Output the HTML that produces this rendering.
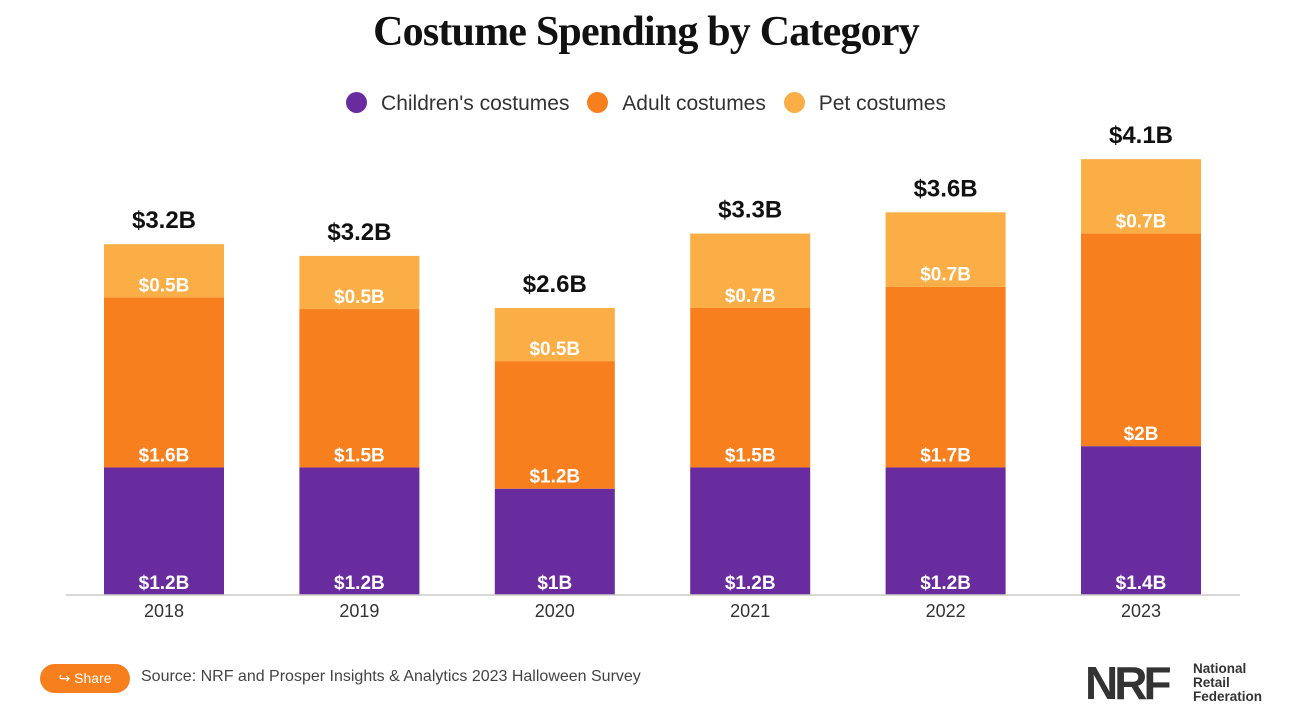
<!DOCTYPE html>
<html><head><meta charset="utf-8">
<style>
body{margin:0;width:1292px;height:710px;background:#fff;font-family:"Liberation Sans",sans-serif;overflow:hidden;position:relative}
#title{position:absolute;top:8px;left:0;width:1292px;text-align:center;font-family:"Liberation Serif",serif;font-weight:bold;font-size:42px;color:#111;letter-spacing:-0.8px}
#legend{position:absolute;top:92px;left:0;width:1292px;text-align:center;font-size:21px;color:#333}
.li{display:inline-block;margin:0 6px}
.dot{display:inline-block;width:21px;height:21px;border-radius:50%;vertical-align:-3px;margin-right:14px}
#share{position:absolute;left:40px;top:664px;width:90px;height:29px;border-radius:15px;background:#f77f1d;color:#fff;font-size:14px;line-height:29px;text-align:center}
#source{position:absolute;left:141px;top:668px;font-size:16px;color:#444}
#logo{position:absolute;left:1085px;top:656px;display:flex;align-items:center}
</style></head><body>
<div id="title">Costume Spending by Category</div>
<div id="legend">
<span class="li"><span class="dot" style="background:#692c9f"></span>Children's costumes</span>
<span class="li"><span class="dot" style="background:#f77f1d"></span>Adult costumes</span>
<span class="li"><span class="dot" style="background:#fbae45"></span>Pet costumes</span>
</div>
<svg id="chart" width="1292" height="710" style="position:absolute;left:0;top:0"></svg>
<div id="share">&#x21AA; Share</div>
<div id="source">Source: NRF and Prosper Insights &amp; Analytics 2023 Halloween Survey</div>
<div id="logo">
<span style="font-weight:900;font-size:46px;color:#333;letter-spacing:-4px;display:inline-block;width:108px">NRF</span>
<span style="font-weight:bold;font-size:13.5px;line-height:14px;color:#333">National<br>Retail<br>Federation</span>
</div>
<script>
const years=["2018","2019","2020","2021","2022","2023"];
const children=[1.2,1.2,1.0,1.2,1.2,1.4];
const adult=[1.6,1.49,1.2,1.5,1.7,2.0];
const pet=[0.5,0.5,0.5,0.7,0.7,0.7];
const childLabels=["$1.2B","$1.2B","$1B","$1.2B","$1.2B","$1.4B"];
const adultLabels=["$1.6B","$1.5B","$1.2B","$1.5B","$1.7B","$2B"];
const petLabels=["$0.5B","$0.5B","$0.5B","$0.7B","$0.7B","$0.7B"];
const totalLabels=["$3.2B","$3.2B","$2.6B","$3.3B","$3.6B","$4.1B"];

const svg=document.getElementById('chart');
const NS="http://www.w3.org/2000/svg";
const base=595, pxPerB=106.3, x0=164, step=195.4, bw=120;
const y=v=>base-v*pxPerB;
const xc=i=>x0+i*step;
function mk(tag,attrs){const e=document.createElementNS(NS,tag);for(const k in attrs)e.setAttribute(k,attrs[k]);svg.appendChild(e);return e;}
const colors=["#692c9f","#f77f1d","#fbae45"];
years.forEach((yr,i)=>{
  const segs=[children[i],adult[i],pet[i]];
  let cum=0;
  segs.forEach((v,s)=>{
    const r=mk('rect',{x:xc(i)-bw/2,y:y(cum+v),width:bw,height:v*pxPerB,fill:colors[s]});
    
    
    cum+=v;
  });
  const c1=children[i], c2=c1+adult[i], c3=c2+pet[i];
  const lab=(txt,ty,name,size,fill)=>{const t=mk('text',{x:xc(i),y:ty,'text-anchor':'middle','font-size':size,'font-weight':'bold',fill:fill,'font-family':'Liberation Sans, sans-serif'});t.textContent=txt;
    
    };
  lab(childLabels[i],base-6,'label-children-'+yr,19,'#fff');
  lab(adultLabels[i],y(c1)-6,'label-adult-'+yr,19,'#fff');
  lab(petLabels[i],y(c2)-6,'label-pet-'+yr,19,'#fff');
  lab(totalLabels[i],y(c3)-16,'label-total-'+yr,24,'#111');
  const xt=mk('text',{x:xc(i),y:base+22,'text-anchor':'middle','font-size':18,fill:'#333','font-family':'Liberation Sans, sans-serif'});
  xt.textContent=yr;
  
  
});
const ax=mk('line',{x1:66,x2:1240,y1:base,y2:base,stroke:'#ccc','stroke-width':1.5});


</script>
</body></html>
